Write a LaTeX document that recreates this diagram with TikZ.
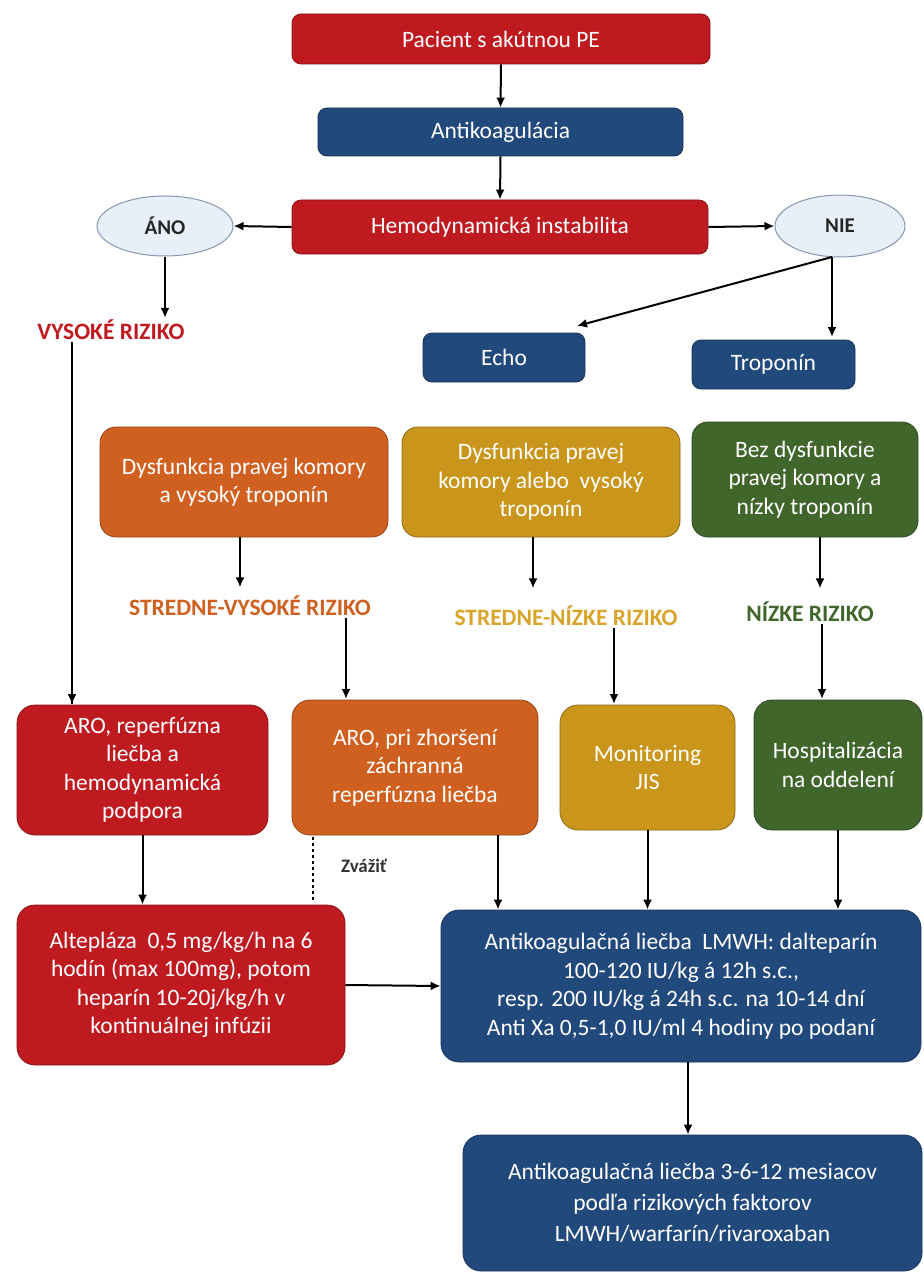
\documentclass[tikz,border=0pt]{standalone}
\usepackage{fontspec}
\setmainfont{Carlito}
\usetikzlibrary{arrows.meta,shapes.geometric}
\definecolor{cred}{HTML}{BF1A20}
\definecolor{cblue}{HTML}{21497C}
\definecolor{corange}{HTML}{CF601F}
\definecolor{cgold}{HTML}{C9961B}
\definecolor{cgreen}{HTML}{41662C}
\definecolor{tgold}{HTML}{D9A42A}
\definecolor{ellfill}{HTML}{E9EFF8}
\definecolor{elldraw}{HTML}{8496B0}
\tikzset{
  bx/.style={rounded corners=9pt, text=white, align=center, inner sep=0pt,
    font=\fontsize{23.5}{28.5}\selectfont, draw=#1!70!black, line width=0.8pt, fill=#1},
  bigbx/.style={bx=#1, rounded corners=18pt},
  ell/.style={ellipse, draw=elldraw, fill=ellfill, line width=1pt, inner sep=0pt,
    font=\fontsize{21}{24}\selectfont\bfseries, text=black!85},
  risk/.style={font=\fontsize{23.5}{26}\selectfont\bfseries, text=#1, inner sep=2pt},
  arr/.style={draw=black, line width=2pt, -{Latex[length=10pt,width=9pt]}},
  plain/.style={draw=black, line width=2pt},
}
\begin{document}
\begin{tikzpicture}[x=1pt,y=-1pt]
\useasboundingbox (0,0) rectangle (923,1281);
% top row
\node[bx=cred, minimum width=418pt, minimum height=50pt] (p) at (501,39) {Pacient s akútnou PE};
\node[bx=cblue, minimum width=365pt, minimum height=48pt] (ak) at (500.5,132) {Antikoagulácia};
\node[bx=cred, minimum width=416pt, minimum height=54pt] (hemo) at (500,227) {Hemodynamická instabilita};
\node[ell, minimum width=136pt, minimum height=60pt] (ano) at (165,226) {ÁNO};
\node[ell, minimum width=130pt, minimum height=62pt] (nie) at (840,226) {NIE};
\node[risk=cred] (vys) at (111,330) {VYSOKÉ RIZIKO};
\node[bx=cblue, minimum width=162pt, minimum height=49pt] (echo) at (504,357.5) {Echo};
\node[bx=cblue, minimum width=163pt, minimum height=49pt] (trop) at (773.5,364.5) {Troponín};
% condition row
\node[bx=corange, rounded corners=16pt, minimum width=288pt, minimum height=110pt] (c1) at (244,482) {Dysfunkcia pravej komory\\a vysoký troponín};
\node[bx=cgold, rounded corners=16pt, minimum width=278pt, minimum height=110pt] (c2) at (541,482) {Dysfunkcia pravej\\komory alebo\ \ vysoký\\troponín};
\node[bx=cgreen, rounded corners=16pt, minimum width=226pt, minimum height=115pt] (c3) at (805,479.5) {Bez dysfunkcie\\pravej komory a\\nízky troponín};
\node[risk=corange] (sv) at (250,606) {STREDNE-VYSOKÉ RIZIKO};
\node[risk=tgold] (sn) at (566,616) {STREDNE-NÍZKE RIZIKO};
\node[risk=cgreen] (nz) at (810,612) {NÍZKE RIZIKO};
% action row
\node[bigbx=cred, minimum width=251pt, minimum height=130pt] (a1) at (142.5,770) {ARO, reperfúzna\\liečba a\\hemodynamická\\podpora};
\node[bigbx=corange, minimum width=246pt, minimum height=135pt] (a2) at (415,767.5) {ARO, pri zhoršení\\záchranná\\reperfúzna liečba};
\node[bigbx=cgold, minimum width=175pt, minimum height=125pt] (mon) at (647.5,767.5) {Monitoring\\JIS};
\node[bigbx=cgreen, minimum width=168pt, minimum height=130pt] (hosp) at (838,765) {Hospitalizácia\\na oddelení};
\node[font=\fontsize{19}{22}\selectfont\bfseries, text=black!80, inner sep=1pt] (zv) at (364,866) {Zvážiť};
% treatment
\node[bigbx=cred, minimum width=328pt, minimum height=160pt] (alt) at (181,985) {Altepláza\ \ 0,5 mg/kg/h na 6\\hodín (max 100mg), potom\\heparín 10-20j/kg/h v\\kontinuálnej infúzii};
\node[bigbx=cblue, minimum width=480pt, minimum height=152pt] (lm) at (681,986) {Antikoagulačná liečba\ \ LMWH: dalteparín\\100-120 IU/kg á 12h s.c.,\\resp. 200 IU/kg á 24h s.c. na 10-14 dní\\Anti Xa 0,5-1,0 IU/ml 4 hodiny po podaní};
\node[bigbx=cblue, minimum width=459pt, minimum height=136pt, font=\fontsize{23.5}{31}\selectfont] (fin) at (692.5,1203) {Antikoagulačná liečba 3-6-12 mesiacov\\podľa rizikových faktorov\\LMWH/warfarín/rivaroxaban};
% coordinates
\coordinate (nieb) at (832,257);
\coordinate (echoin) at (577,326);
\coordinate (tropin) at (832,337);
\coordinate (a1in) at (72,704);
\coordinate (a2in) at (346,699);
\coordinate (monin) at (614,704);
\coordinate (hospin) at (822,699);
\coordinate (dashtop) at (313,837);
\coordinate (dashbot) at (313,902);
% connectors
\draw[arr] (p.south) -- (ak.north);
\draw[arr] (ak.south) -- (hemo.north);
\draw[arr] (hemo.west) -- (ano.east);
\draw[arr] (hemo.east) -- (nie.west);
\draw[arr] (ano.south) -- (ano.south |- vys.north);
\draw[arr] (nieb) -- (echoin);
\draw[arr] (nieb) -- (tropin);
\draw[plain] (vys.south -| a1in) -- (a1in);
\draw[arr] (vys.south -| a1in) -- (a1in);
\draw[arr] (c1.south -| sv.north) ++(-10,0) -- ++(0,50);
\draw[arr] (c2.south) ++(-8,0) -- ++(0,51);
\draw[arr] (c3.south) ++(15,0) -- ++(0,51);
\draw[arr] (sv.south -| a2in) -- (a2in);
\draw[arr] (sn.south -| monin) -- (monin);
\draw[arr] (nz.south -| hospin) -- (hospin);
\draw[arr] (a1.south) -- (a1.south |- alt.north);
\draw[plain, dash pattern=on 3pt off 3pt, line width=1.5pt] (dashtop) -- (dashbot);
\draw[arr] (a2.south -| 498,0) -- (lm.north -| 498,0);
\draw[arr] (mon.south) -- (mon.south |- lm.north);
\draw[arr] (hosp.south) -- (hosp.south |- lm.north);
\draw[arr] (alt.east) -- (lm.west);
\draw[arr] (lm.south -| 688,0) -- (fin.north -| 688,0);
\end{tikzpicture}
\end{document}
